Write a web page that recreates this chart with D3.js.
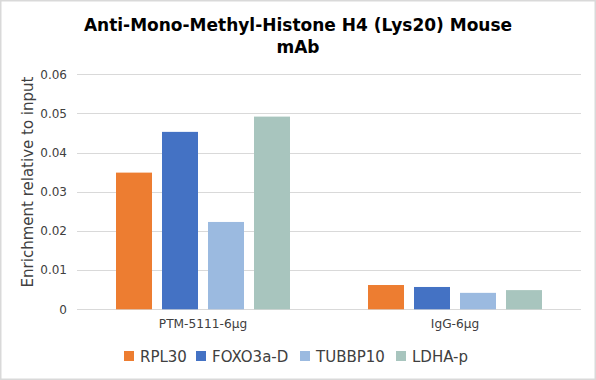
<!DOCTYPE html>
<html><head><meta charset="utf-8">
<script src="https://cdn.jsdelivr.net/npm/d3@7"></script>
<style>body{margin:0;background:#fff}svg{display:block;font-family:"DejaVu Sans",Verdana,sans-serif}</style>
</head><body><svg id="c" width="596" height="380"></svg>
<script>
const categories = ["PTM-5111-6μg", "IgG-6μg"];
const seriesNames = ["RPL30", "FOXO3a-D", "TUBBP10", "LDHA-p"];
const RPL30 = [0.0349, 0.0062];
const FOXO3a_D = [0.0453, 0.0057];
const TUBBP10 = [0.0223, 0.0042];
const LDHA_p = [0.0492, 0.0049];
const colors = ["#ED7D31", "#4472C4", "#9BBAE0", "#A8C5BE"];
const yTicks = [0, 0.01, 0.02, 0.03, 0.04, 0.05, 0.06];
const title = ["Anti-Mono-Methyl-Histone H4 (Lys20) Mouse", "mAb"];
const yTitle = "Enrichment relative to input";

const values = [RPL30, FOXO3a_D, TUBBP10, LDHA_p];
const svg = d3.select("#c");
svg.append("rect").attr("x",0.75).attr("y",0.75).attr("width",594.5).attr("height",378.5)
  .attr("fill","#fff").attr("stroke","#d9d9d9").attr("stroke-width",1.5);

const x0 = d3.scaleBand().domain(categories).range([77,581]).paddingInner(0).paddingOuter(0);
const x1 = d3.scaleBand().domain(seriesNames).range([0, x0.bandwidth()]).paddingInner(0.2174).paddingOuter(0.848);
const y = d3.scaleLinear().domain([0,0.06]).range([309.3,74.3]);

const grid = svg.append("g");
grid.selectAll("line").data(yTicks).join("line")
  .attr("x1",77).attr("x2",581).attr("y1",d=>Math.round(y(d))+0.5).attr("y2",d=>Math.round(y(d))+0.5)
  .attr("stroke","#d9d9d9").attr("stroke-width",1);

const yAxis = d3.axisLeft(y).tickValues(yTicks).tickFormat(d=>d===0?"0":d3.format(".2f")(d)).tickSize(0).tickPadding(10);
const ya = svg.append("g").attr("transform","translate(77,0)").call(yAxis);
ya.select(".domain").remove();
ya.selectAll("text").attr("font-size",12).attr("fill","#404040").attr("font-family","DejaVu Sans, sans-serif");

const xAxis = d3.axisBottom(x0).tickSize(0).tickPadding(10);
const xa = svg.append("g").attr("transform","translate(0,309)").call(xAxis);
xa.select(".domain").remove();
xa.selectAll("text").attr("font-size",12.2).attr("fill","#404040").attr("font-family","DejaVu Sans, sans-serif");

const groups = svg.append("g").selectAll("g").data(categories).join("g")
  .attr("transform",d=>`translate(${x0(d)},0)`);
groups.selectAll("rect").data((c,ci)=>seriesNames.map((s,si)=>({s,si,v:values[si][ci]}))).join("rect")
  .attr("x",d=>x1(d.s)).attr("width",x1.bandwidth())
  .attr("y",d=>y(d.v)).attr("height",d=>y(0)-y(d.v))
  .attr("fill",d=>colors[d.si]);

svg.append("text").attr("x",298).attr("y",31).attr("text-anchor","middle")
  .attr("font-size",17).attr("font-weight","bold").attr("fill","#000").text(title[0]);
svg.append("text").attr("x",298).attr("y",53).attr("text-anchor","middle")
  .attr("font-size",17).attr("font-weight","bold").attr("fill","#000").text(title[1]);

svg.append("text").attr("transform","translate(33,182) rotate(-90)").attr("text-anchor","middle")
  .attr("font-size",15).attr("fill","#404040").text(yTitle);

const legX = [124, 196, 300, 396];
const leg = svg.append("g").selectAll("g").data(seriesNames).join("g")
  .attr("transform",(d,i)=>`translate(${legX[i]},356)`);
leg.append("rect").attr("x",0).attr("y",-5).attr("width",10).attr("height",10).attr("fill",(d,i)=>colors[i]);
leg.append("text").attr("x",16).attr("y",5.5).attr("font-size",15).attr("fill","#404040").text(d=>d);
</script></body></html>
